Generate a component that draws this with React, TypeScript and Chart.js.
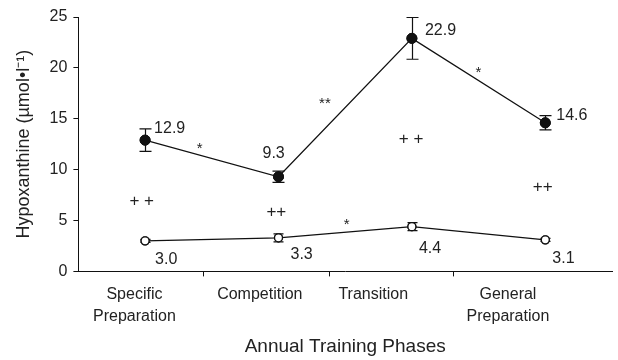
import React, { useEffect, useRef } from 'react';
import { Chart, registerables } from 'chart.js';

Chart.register(...registerables);

// ---- data ----
const phases: (string | string[])[] = [['Specific', 'Preparation'], 'Competition', 'Transition', ['General', 'Preparation']];
const phasePos = [0.5, 1.5, 2.5, 3.5];
const trained = [12.9, 9.3, 22.9, 14.6];
const trainedErr = [1.1, 0.55, 2.05, 0.7];
const control = [3.0, 3.3, 4.4, 3.1];
const controlErr = [0.15, 0.39, 0.4, 0.15];
const yMin = 0;
const yMax = 25;
const yStep = 5;
const phaseTickMarks = [0.935, 1.885, 2.815];
const phaseLabelAnchors = [0.42, 1.36, 2.21, 3.22];
const sigText = ['*', '**', '*', '*', '+ +', '++', '+ +', '++'];
const sigX = [0.91, 1.848, 2.998, 2.011, 0.475, 1.484, 2.494, 3.48];
const sigY = [12.35, 16.75, 19.8, 4.84, 6.99, 5.93, 13.1, 8.33];

// ---- styling ----
const FONT = "'Liberation Sans', Arial, Helvetica, sans-serif";
const TEXT = '#222';
const LINE = '#111';
const trainedLabelOffset = [[9, -13.5], [-16, -25], [13, -9], [11, -9]];
const controlLabelOffset = [[10, 17], [12, 15], [7, 20], [7, 17]];

function inkText(ctx: CanvasRenderingContext2D, t: string, x: number, y: number) {
  const m = ctx.measureText(t);
  const off = (m.actualBoundingBoxAscent - m.actualBoundingBoxDescent) / 2;
  ctx.fillText(t, x, y + off);
}

const errorBarsPlugin = {
  id: 'errorBars',
  afterDatasetsDraw(chart: any) {
    const ctx = chart.ctx;
    const ys = chart.scales.y;
    const sets = [
      { meta: chart.getDatasetMeta(0), vals: trained, errs: trainedErr, half: 6 },
      { meta: chart.getDatasetMeta(1), vals: control, errs: controlErr, half: 5 },
    ];
    ctx.save();
    ctx.strokeStyle = LINE;
    ctx.lineWidth = 1.2;
    sets.forEach(s => {
      s.meta.data.forEach((pt: any, i: number) => {
        const x = Math.round(pt.x) + 0.5;
        const top = ys.getPixelForValue(s.vals[i] + s.errs[i]);
        const bot = ys.getPixelForValue(s.vals[i] - s.errs[i]);
        ctx.beginPath();
        ctx.moveTo(x, top); ctx.lineTo(x, bot);
        ctx.moveTo(x - s.half, top); ctx.lineTo(x + s.half, top);
        ctx.moveTo(x - s.half, bot); ctx.lineTo(x + s.half, bot);
        ctx.stroke();
      });
    });
    ctx.restore();
    // redraw points over error bars
    sets.forEach(s => s.meta.data.forEach((pt: any) => pt.draw(ctx, chart.chartArea)));
  },
};

const labelsPlugin = {
  id: 'valueLabels',
  afterDraw(chart: any) {
    const ctx = chart.ctx;
    const xs = chart.scales.x;
    const ys = chart.scales.y;
    ctx.save();
    ctx.fillStyle = TEXT;
    ctx.font = `16px ${FONT}`;
    ctx.textAlign = 'left';
    ctx.textBaseline = 'alphabetic';
    const m0 = chart.getDatasetMeta(0).data;
    const m1 = chart.getDatasetMeta(1).data;
    trained.forEach((v, i) => {
      inkText(ctx, v.toFixed(1), m0[i].x + trainedLabelOffset[i][0], m0[i].y + trainedLabelOffset[i][1]);
    });
    control.forEach((v, i) => {
      inkText(ctx, v.toFixed(1), m1[i].x + controlLabelOffset[i][0], m1[i].y + controlLabelOffset[i][1]);
    });
    ctx.textAlign = 'center';
    sigText.forEach((t, i) => {
      ctx.font = t.startsWith('+') ? `17px ${FONT}` : `15px ${FONT}`;
      inkText(ctx, t, xs.getPixelForValue(sigX[i]), ys.getPixelForValue(sigY[i]));
    });
    ctx.restore();
  },
};

export default function App() {
  const ref = useRef<HTMLCanvasElement | null>(null);
  useEffect(() => {
    if (!ref.current) return;
    const chart = new Chart(ref.current, {
      type: 'line',
      data: {
        datasets: [
          {
            data: phasePos.map((x, i) => ({ x, y: trained[i] })),
            borderColor: LINE,
            borderWidth: 1.2,
            pointRadius: 5,
            pointBackgroundColor: LINE,
            pointBorderColor: LINE,
            pointBorderWidth: 1,
            tension: 0,
          },
          {
            data: phasePos.map((x, i) => ({ x, y: control[i] })),
            borderColor: LINE,
            borderWidth: 1.2,
            pointRadius: 4,
            pointBackgroundColor: '#fff',
            pointBorderColor: LINE,
            pointBorderWidth: 1.3,
            tension: 0,
          },
        ],
      },
      options: {
        responsive: false,
        animation: false,
        devicePixelRatio: 1,
        layout: { padding: { left: 13, top: 17, right: 0, bottom: 0 } },
        plugins: { legend: { display: false }, tooltip: { enabled: false } },
        scales: {
          x: {
            type: 'linear',
            position: 'bottom',
            min: 0,
            max: 4,
            weight: 0,
            afterBuildTicks: (s: any) => { s.ticks = phaseTickMarks.map(v => ({ value: v })); },
            ticks: { display: false },
            grid: { drawOnChartArea: false, drawTicks: true, tickLength: 5, color: LINE },
            border: { color: LINE, width: 1 },
          },
          xl: {
            type: 'linear',
            position: 'bottom',
            min: 0,
            max: 4,
            weight: 1,
            afterBuildTicks: (s: any) => { s.ticks = phaseLabelAnchors.map(v => ({ value: v })); },
            ticks: {
              autoSkip: false,
              maxRotation: 0,
              minRotation: 0,
              padding: 7,
              color: TEXT,
              font: { family: FONT, size: 16, lineHeight: 1.4 },
              callback: (_v: any, i: number) => phases[i],
            },
            grid: { display: false, drawTicks: false },
            border: { display: false },
            title: {
              display: true,
              text: 'Annual Training Phases',
              color: TEXT,
              font: { family: FONT, size: 19 },
              padding: { top: 0, bottom: 2 },
            },
          },
          y: {
            type: 'linear',
            min: yMin,
            max: yMax,
            ticks: { stepSize: yStep, padding: 6, color: TEXT, font: { family: FONT, size: 16 } },
            grid: { drawOnChartArea: false, tickLength: 5, color: LINE },
            border: { color: LINE, width: 1 },
            title: {
              display: true,
              text: 'Hypoxanthine (µmol•l⁻¹)',
              color: TEXT,
              font: { family: FONT, size: 18 },
              padding: { top: 0, bottom: 9 },
            },
          },
        },
      } as any,
      plugins: [errorBarsPlugin, labelsPlugin],
    });
    return () => chart.destroy();
  }, []);
  return (
    <div style={{ position: 'fixed', left: 0, top: 0, width: 618, height: 360, background: '#fff' }}>
      <canvas ref={ref} width={618} height={360} />
    </div>
  );
}
